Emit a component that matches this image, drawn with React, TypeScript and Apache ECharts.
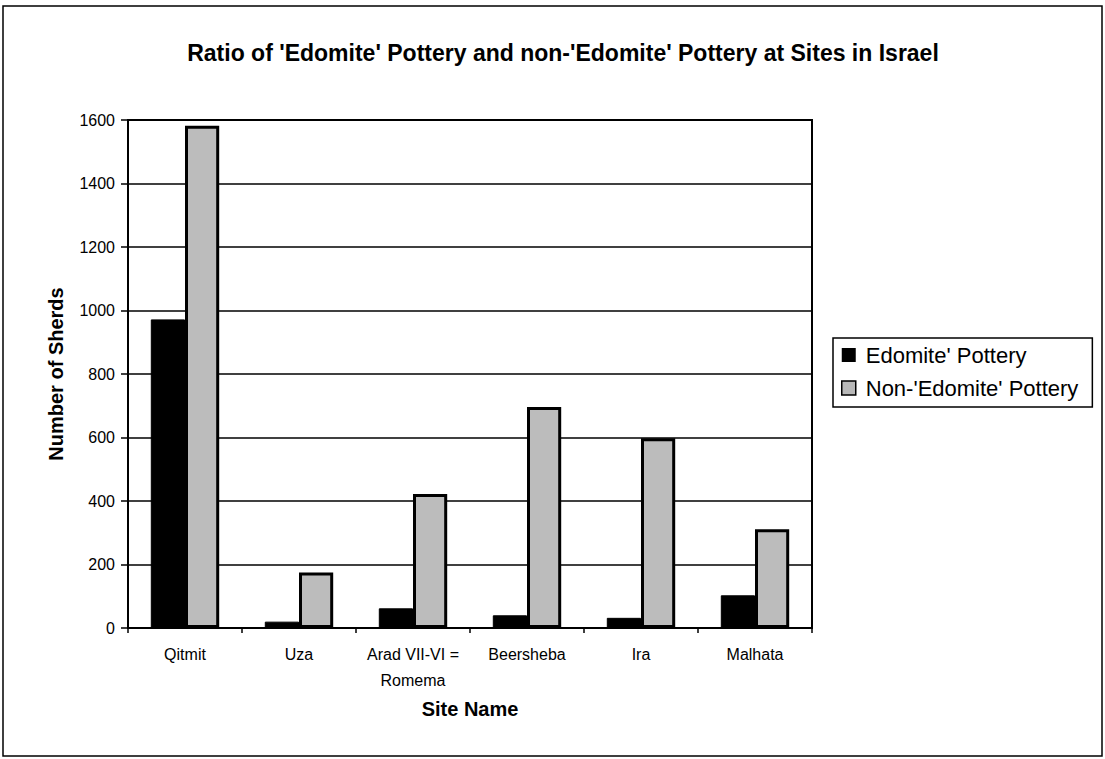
import React, { useEffect, useRef } from "react";
import * as echarts from "echarts";

const categories = ["Qitmit", "Uza", "Arad VII-VI =\nRomema", "Beersheba", "Ira", "Malhata"];
const edomite = [972, 20, 62, 40, 32, 103];
const nonEdomite = [1582, 175, 422, 696, 598, 311];
const seriesNames = ["Edomite' Pottery", "Non-'Edomite' Pottery"];
const titleText = "Ratio of 'Edomite' Pottery and non-'Edomite' Pottery at Sites in Israel";
const yName = "Number of Sherds";
const xName = "Site Name";

const FONT = "Liberation Sans, Arial, Helvetica, sans-serif";

export default function App() {
  const ref = useRef<HTMLDivElement>(null);
  useEffect(() => {
    document.body.style.margin = "0";
    const chart = echarts.init(ref.current!, null, { renderer: "svg" });
    chart.setOption({
      animation: false,
      backgroundColor: "#fff",
      textStyle: { fontFamily: FONT, color: "#000" },
      title: {
        text: titleText,
        left: 558,
        textAlign: "center",
        top: 35,
        textStyle: { fontFamily: FONT, fontSize: 23, fontWeight: "bold", color: "#000", lineHeight: 25 },
      },
      graphic: [
        {
          type: "rect",
          shape: { x: 3, y: 6, width: 1099, height: 750 },
          style: { fill: "none", stroke: "#000", lineWidth: 1.5 },
          silent: true,
        },
      ],
      legend: {
        orient: "vertical",
        left: 833,
        top: 338,
        padding: [5, 14, 7, 8],
        itemGap: 9,
        itemWidth: 14,
        itemHeight: 14,
        borderColor: "#000",
        borderWidth: 1.5,
        textStyle: { fontFamily: FONT, fontSize: 22, color: "#000", lineHeight: 24, padding: [0, 0, 0, 5] },
        data: [
          { name: seriesNames[0], icon: "rect", itemStyle: { color: "#000", borderWidth: 0 } },
          { name: seriesNames[1], icon: "rect", itemStyle: { color: "#b8b8b8", borderColor: "#000", borderWidth: 1.5 } },
        ],
      },
      grid: {
        left: 128,
        top: 120,
        right: 293,
        bottom: 131,
        show: true,
        borderColor: "#000",
        borderWidth: 2,
      },
      xAxis: {
        type: "category",
        data: categories,
        name: xName,
        nameLocation: "middle",
        nameGap: 71,
        nameTextStyle: { fontFamily: FONT, fontSize: 20, fontWeight: "bold", color: "#000" },
        axisLine: { lineStyle: { color: "#000", width: 2 } },
        axisTick: { show: true, length: 5, lineStyle: { color: "#000", width: 1.5 } },
        axisLabel: { fontFamily: FONT, fontSize: 16, color: "#000", margin: 13, lineHeight: 26, interval: 0 },
      },
      yAxis: {
        type: "value",
        min: 0,
        max: 1600,
        interval: 200,
        name: yName,
        nameLocation: "middle",
        nameGap: 62,
        nameTextStyle: { fontFamily: FONT, fontSize: 20, fontWeight: "bold", color: "#000" },
        axisLine: { show: true, lineStyle: { color: "#000", width: 2 } },
        axisTick: { show: true, length: 7, lineStyle: { color: "#000", width: 1.5 } },
        axisLabel: { fontFamily: FONT, fontSize: 16, color: "#000", margin: 13, formatter: (v: number) => String(v) },
        splitLine: { show: true, lineStyle: { color: "#000", width: 1.5 } },
      },
      series: [
        {
          name: seriesNames[0],
          type: "bar",
          data: edomite,
          barGap: "0%",
          barCategoryGap: "40%",
          itemStyle: { color: "#000", borderColor: "#000", borderWidth: 1 },
        },
        {
          name: seriesNames[1],
          type: "bar",
          data: nonEdomite,
          itemStyle: { color: "#bcbcbc", borderColor: "#000", borderWidth: 3 },
        },
      ],
    });
    return () => chart.dispose();
  }, []);
  return <div ref={ref} style={{ width: 1105, height: 759, position: "absolute", left: 0, top: 0 }} />;
}
